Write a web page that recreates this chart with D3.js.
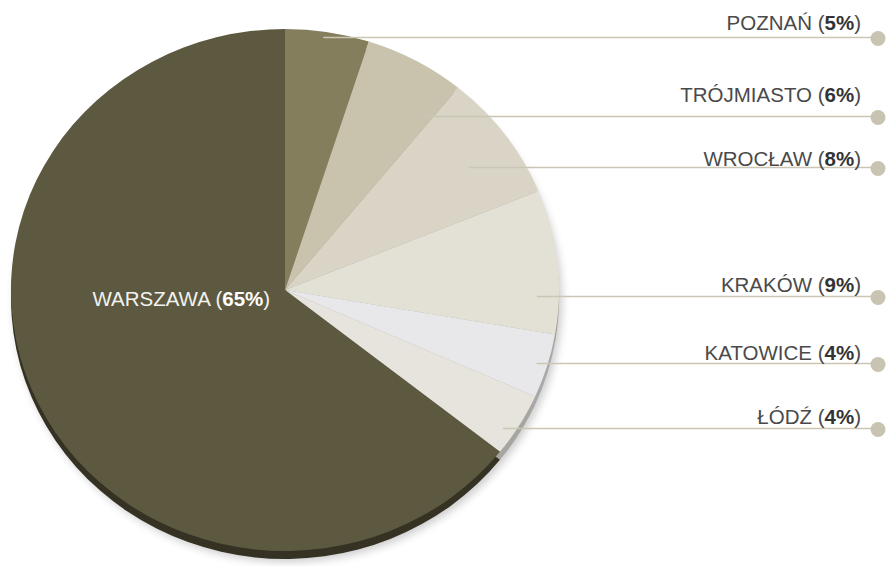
<!DOCTYPE html>
<html>
<head>
<meta charset="utf-8">
<script src="https://cdn.jsdelivr.net/npm/d3@7"></script>
<style>
  body { margin: 0; background: #fff; }
  svg { display: block; font-family: "Liberation Sans", Arial, sans-serif; }
</style>
</head>
<body>
<script>
(function () {

	// data, clockwise from 12 o'clock
	var cities = ["POZNAŃ", "TRÓJMIASTO", "WROCŁAW", "KRAKÓW", "KATOWICE", "ŁÓDŹ", "WARSZAWA"],
		shares = [5, 6, 8, 9, 4, 4, 65];

	var palette = ["#857e5c", "#c9c3ae", "#d9d4c6", "#e3e0d6", "#e8e8ea", "#e6e4dc", "#5d5940"];

	// where each leader starts inside its slice: fraction of the slice angle, fraction of radius
	var anchorAt = [0.46, 0.92, 0.55, 0.74, 0.5, 0.67, 0.59],
		anchorR = [0.98, 0.84, 0.82, 0.92, 0.96, 0.955, 0.38],
		textLift = [8, 15, 2, 5, 4, 5];

	var w = 886,
		h = 566,
		cx = 285,
		cy = 290,
		rx = 274,
		ry = 261,
		depth = 8,
		dotX = 878,
		textEnd = 861,
		fontSize = 20.5;

	var svg = d3.select("body")
		.append("svg")
		.attr("width", w)
		.attr("height", h);

	var defs = svg.append("defs");
	defs.append("filter")
		.attr("id", "soft")
		.attr("x", "-10%").attr("y", "-10%")
		.attr("width", "120%").attr("height", "120%")
		.append("feGaussianBlur")
		.attr("stdDeviation", 4);

	var color = d3.scaleOrdinal().domain(cities).range(palette);

	var pie = d3.pie().sort(null).value(function (d) { return d; }),
		arcs = pie(shares),
		arc = d3.arc().innerRadius(0).outerRadius(rx);

	// soft shadow under the disc
	svg.append("ellipse")
		.attr("cx", cx + 3)
		.attr("cy", cy + depth + 3)
		.attr("rx", rx)
		.attr("ry", ry)
		.attr("fill", "#000")
		.attr("opacity", 0.2)
		.attr("filter", "url(#soft)");

	// thickness of the disc
	svg.append("g")
		.attr("transform", "translate(" + cx + "," + (cy + depth) + ") scale(1," + (ry / rx) + ")")
		.selectAll("path")
		.data(arcs)
		.enter()
		.append("path")
		.attr("d", arc)
		.attr("fill", function (d, i) {
			return d3.color(color(cities[i])).darker(i === 6 ? 1.6 : 0.9);
		});

	// top face
	svg.append("g")
		.attr("transform", "translate(" + cx + "," + cy + ") scale(1," + (ry / rx) + ")")
		.selectAll("path")
		.data(arcs)
		.enter()
		.append("path")
		.attr("d", arc)
		.attr("fill", function (d, i) { return color(cities[i]); });

	function anchor(d, i) {
		var a = d.startAngle + anchorAt[i] * (d.endAngle - d.startAngle),
			k = anchorR[i];
		return [cx + rx * k * Math.sin(a), cy - ry * k * Math.cos(a)];
	}

	function writeLabel(sel, i) {
		sel.append("tspan").text(cities[i] + " (");
		sel.append("tspan").attr("font-weight", "bold").attr("fill", sel.attr("data-strong")).text(shares[i] + "%");
		sel.append("tspan").text(")");
	}

	var outer = arcs.slice(0, 6);

	var leaders = svg.append("g");

	outer.forEach(function (d, i) {
		var p = anchor(d, i),
			y = Math.round(p[1]) + 0.5;

		leaders.append("line")
			.attr("x1", p[0])
			.attr("x2", dotX)
			.attr("y1", y)
			.attr("y2", y)
			.attr("stroke", "#cbc6b4")
			.attr("stroke-width", 1.5);

		leaders.append("circle")
			.attr("cx", dotX)
			.attr("cy", y + 1)
			.attr("r", 7.5)
			.attr("fill", "#c9c4b1");

		var t = leaders.append("text")
			.attr("x", textEnd)
			.attr("y", y - textLift[i])
			.attr("text-anchor", "end")
			.attr("font-size", fontSize)
			.attr("fill", "#4a4a4a")
			.attr("data-strong", "#333");
		writeLabel(t, i);
	});

	// label of the big slice sits inside it
	var pw = anchor(arcs[6], 6);
	var tw = svg.append("text")
		.attr("x", pw[0])
		.attr("y", pw[1] + 7)
		.attr("text-anchor", "middle")
		.attr("font-size", fontSize)
		.attr("fill", "#f2f2ee")
		.attr("data-strong", "#fff");
	writeLabel(tw, 6);

}());
</script>
</body>
</html>
